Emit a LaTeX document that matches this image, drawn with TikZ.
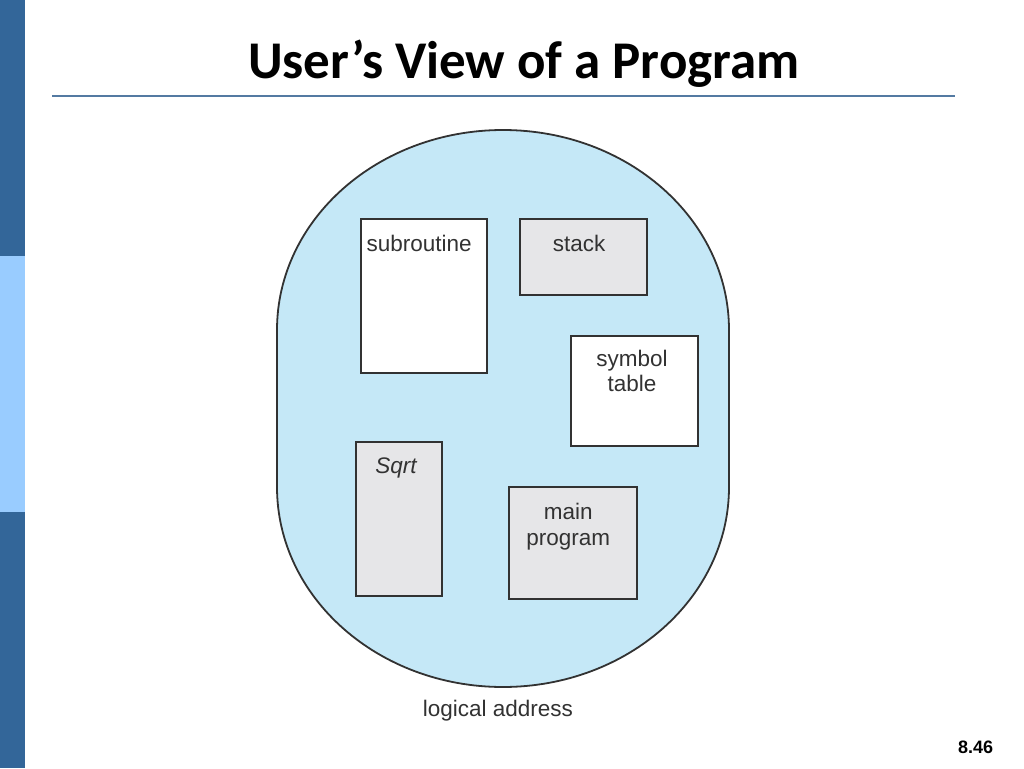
\documentclass[tikz,border=0pt]{standalone}
\usepackage{fontspec}
\setmainfont{Liberation Sans}
\newfontfamily\titlefont{Carlito}
\definecolor{bardark}{RGB}{51,102,153}
\definecolor{barlight}{RGB}{153,204,255}
\definecolor{rulecol}{RGB}{84,122,162}
\definecolor{ovalfill}{RGB}{197,232,247}
\definecolor{boxgray}{RGB}{230,230,232}
\definecolor{inkgray}{RGB}{50,50,50}
\tikzset{
  segbox/.style={draw=inkgray, line width=1.8pt, inner sep=0pt, outer sep=0pt},
  whitebox/.style={segbox, fill=white},
  graybox/.style={segbox, fill=boxgray},
  lbl/.style={anchor=base, inner sep=0pt, text=inkgray, font=\fontsize{22.5}{25}\selectfont},
}
\begin{document}
\begin{tikzpicture}[x=1pt,y=-1pt]
\useasboundingbox (0,0) rectangle (1024,768);
\fill[white] (0,0) rectangle (1024,768);
% left bar
\fill[bardark] (0,0) rectangle (25,256);
\fill[barlight] (0,256) rectangle (25,512);
\fill[bardark] (0,512) rectangle (25,768);
% title
\node[anchor=base, inner sep=0pt] (title) at (524,78) {\titlefont\bfseries\fontsize{53}{60}\selectfont User’s View of a Program};
\coordinate (ruleL) at (52,96);
\coordinate (ruleR) at (955,96);
\draw[rulecol, line width=2pt] (ruleL) -- (ruleR);
% oval
\draw[fill=ovalfill, draw=inkgray, line width=1.8pt]
  (277,330) .. controls (277,219.5) and (378.2,130) .. (503,130)
  .. controls (627.8,130) and (729,219.5) .. (729,330)
  -- (729,487)
  .. controls (729,597.5) and (627.8,687) .. (503,687)
  .. controls (378.2,687) and (277,597.5) .. (277,487) -- cycle;
% boxes
\node[whitebox, minimum width=126.6pt, minimum height=154pt] (sub) at (424,296.3) {};
\node[graybox, minimum width=127pt, minimum height=75.4pt] (stack) at (583.5,257) {};
\node[whitebox, minimum width=126.7pt, minimum height=110.3pt] (sym) at (634.7,390.9) {};
\node[graybox, minimum width=86.3pt, minimum height=154pt] (sqrt) at (398.9,518.7) {};
\node[graybox, minimum width=127.4pt, minimum height=111.7pt] (main) at (573,543.2) {};
% labels
\node[lbl] (subT) at (419.2,251.7) {subroutine};
\node[lbl] (stackT) at (579,251.7) {stack};
\node[lbl] (symT1) at (632,366.7) {symbol};
\node[lbl] (symT2) at (632,391.7) {table};
\node[lbl] (sqrtT) at (396,473.3) {\itshape Sqrt};
\node[lbl] (mainT1) at (568.3,519) {main};
\node[lbl] (mainT2) at (568.3,545) {program};
\node[lbl] (logT) at (498,716) {logical address};
% page number
\node[anchor=base, inner sep=0pt] (pnum) at (975.5,753) {\bfseries\fontsize{18}{20}\selectfont 8.46};
\end{tikzpicture}
\end{document}
